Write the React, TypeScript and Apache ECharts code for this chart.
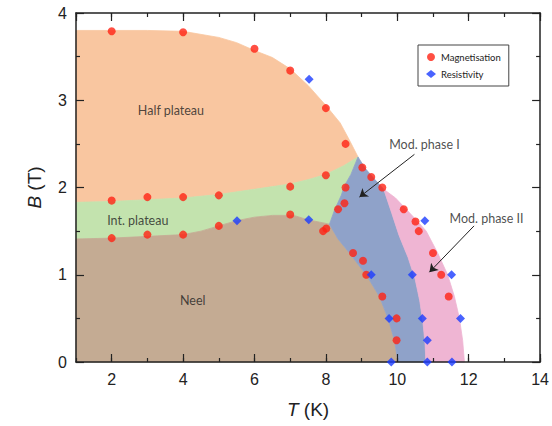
import React, { useEffect, useRef } from "react";
import * as echarts from "echarts";

// Measured points
const magnetisation: number[][] = [
  [2, 3.79], [4, 3.78], [6, 3.59], [7, 3.34], [8, 2.91], [8.55, 2.5], [9.02, 2.23], [9.27, 2.12], [9.58, 2.0],
  [7, 2.01], [8, 2.14], [8.55, 2.0], [8.52, 1.82], [8.34, 1.75],
  [2, 1.85], [3, 1.89], [4, 1.89], [5, 1.91],
  [2, 1.42], [3, 1.46], [4, 1.46], [5, 1.56],
  [7, 1.69], [7.92, 1.5], [8.01, 1.53],
  [8.76, 1.25], [9.04, 1.16], [9.13, 1.0], [9.58, 0.75], [9.98, 0.5], [9.98, 0.25],
  [10.18, 1.75], [10.51, 1.61], [10.6, 1.5], [11.0, 1.25], [11.23, 1.0], [11.44, 0.75],
];
const resistivity: number[][] = [
  [7.53, 3.24], [5.51, 1.62], [7.52, 1.63], [9.27, 1.0], [9.77, 0.5], [9.83, 0],
  [10.77, 1.62], [10.42, 1.0], [11.52, 1.0], [10.7, 0.5], [11.77, 0.5], [10.84, 0.25], [10.84, 0], [11.53, 0],
];

// Phase boundaries
const orangeTop = [[1, 3.8], [2, 3.8], [3, 3.8], [4, 3.79], [5, 3.72], [5.5, 3.66], [6, 3.57], [6.5, 3.49], [7, 3.36], [7.5, 3.17], [8, 2.94], [8.4, 2.74], [8.65, 2.55], [8.9, 2.35]];
const orangeGreen = [[1, 1.83], [2, 1.84], [3, 1.86], [4, 1.88], [5, 1.92], [6, 1.98], [7, 2.04], [7.5, 2.09], [8, 2.15], [8.5, 2.25], [8.9, 2.35]];
const greenBlue = [[8.9, 2.35], [8.7, 2.15], [8.52, 2.02], [8.43, 1.91], [8.24, 1.74], [8.1, 1.58]];
const greenNeel = [[1, 1.41], [2, 1.42], [3, 1.44], [4, 1.46], [4.5, 1.5], [5, 1.56], [5.5, 1.62], [6, 1.66], [6.5, 1.68], [7.1, 1.68], [7.5, 1.63], [8.1, 1.58]];
const neelBlue = [[8.1, 1.58], [8.34, 1.41], [8.66, 1.25], [8.9, 1.12], [9.13, 1.0], [9.5, 0.75], [9.74, 0.5], [9.92, 0.25], [10.02, 0]];
const blueTop = [[8.9, 2.35], [9.1, 2.22], [9.35, 2.1], [9.62, 1.98]];
const bluePink = [[9.62, 1.98], [9.85, 1.7], [10.05, 1.45], [10.3, 1.2], [10.5, 0.95], [10.63, 0.7], [10.72, 0.45], [10.78, 0.2], [10.8, 0]];
const pinkOuter = [[9.62, 1.98], [9.95, 1.88], [10.25, 1.75], [10.55, 1.62], [10.81, 1.5], [11.13, 1.25], [11.41, 1.0], [11.6, 0.75], [11.74, 0.5], [11.83, 0.25], [11.88, 0]];

const rev = (a: number[][]) => a.slice().reverse();
const regionNames = ["Half plateau", "Int. plateau", "Neel", "Mod. phase I", "Mod. phase II"];
const regionColors = ["#f9c6a0", "#c3e3ae", "#c4ab93", "#8fa2c9", "#efb5d3"];
const regionPolys: number[][][] = [
  [...orangeTop, ...rev(orangeGreen)],
  [...orangeGreen, ...greenBlue, ...rev(greenNeel)],
  [...greenNeel, ...neelBlue, [1, 0]],
  [...blueTop, ...bluePink, ...rev(neelBlue), ...rev(greenBlue)],
  [...pinkOuter, ...rev(bluePink)],
];

const regionLabels = [
  { name: "Half plateau", value: [3.66, 2.88] },
  { name: "Int. plateau", value: [2.73, 1.62] },
  { name: "Neel", value: [4.27, 0.71] },
  { name: "Mod. phase I", value: [10.76, 2.49] },
  { name: "Mod. phase II", value: [12.5, 1.64] },
];
const arrows = [
  { coords: [[10.48, 2.38], [8.94, 1.89]] },
  { coords: [[12.15, 1.56], [10.9, 1.03]] },
];

const FONT = "'Liberation Sans', Arial, sans-serif";
const LFONT = "Lato, 'Open Sans', sans-serif";
const INK = "#222";

export default function App() {
  const ref = useRef<HTMLDivElement>(null);
  useEffect(() => {
    if (!ref.current) return;
    const chart = echarts.init(ref.current, null, { renderer: "svg" });
    const lineStyle = { color: INK, width: 1.5 };
    const tickStyle = { color: INK, width: 1.2 };
    const xBase = { type: "value", min: 1, max: 14, z: 10, splitLine: { show: false } };
    chart.setOption({
      animation: false,
      backgroundColor: "#fff",
      grid: { left: 76, right: 10, top: 13, bottom: 64 },
      legend: {
        data: ["Magnetisation", "Resistivity"],
        orient: "vertical",
        left: 418,
        top: 45,
        itemWidth: 10,
        itemHeight: 8,
        itemGap: 7,
        padding: [7, 8, 7, 8],
        borderColor: "#444",
        borderWidth: 1,
        backgroundColor: "#fff",
        textStyle: { fontSize: 9.5, fontFamily: LFONT, color: INK },
      },
      xAxis: [
        {
          ...xBase,
          position: "bottom",
          minInterval: 2,
          maxInterval: 2,
          axisLine: { show: true, onZero: false, lineStyle },
          axisTick: { show: true, inside: true, length: 8, lineStyle: tickStyle },
          axisLabel: { fontSize: 16, fontFamily: FONT, color: INK, margin: 9, showMinLabel: false },
          name: "{i|T} (K)",
          nameLocation: "middle",
          nameGap: 38,
          nameTextStyle: {
            fontSize: 19, fontFamily: FONT, color: INK,
            rich: { i: { fontSize: 19, fontFamily: FONT, color: INK, fontStyle: "italic" } },
          },
        },
        {
          ...xBase,
          position: "bottom",
          interval: 1,
          axisLine: { show: false, onZero: false },
          axisTick: { show: true, inside: true, length: 4, lineStyle: tickStyle },
          axisLabel: { show: false },
        },
        {
          ...xBase,
          position: "top",
          minInterval: 2,
          maxInterval: 2,
          axisLine: { show: true, onZero: false, lineStyle },
          axisTick: { show: true, inside: true, length: 8, lineStyle: tickStyle },
          axisLabel: { show: false },
        },
        {
          ...xBase,
          position: "top",
          interval: 1,
          axisLine: { show: false, onZero: false },
          axisTick: { show: true, inside: true, length: 4, lineStyle: tickStyle },
          axisLabel: { show: false },
        },
      ],
      yAxis: [
        {
          type: "value",
          position: "left",
          min: 0,
          max: 4,
          interval: 1,
          z: 10,
          splitLine: { show: false },
          axisLine: { show: true, onZero: false, lineStyle },
          axisTick: { show: true, inside: true, length: 8, lineStyle: tickStyle },
          minorTick: { show: true, splitNumber: 2, length: 4, lineStyle: tickStyle },
          axisLabel: { fontSize: 16, fontFamily: FONT, color: INK, margin: 9 },
          name: "{i|B} (T)",
          nameLocation: "middle",
          nameGap: 32,
          nameTextStyle: {
            fontSize: 19, fontFamily: FONT, color: INK,
            rich: { i: { fontSize: 19, fontFamily: FONT, color: INK, fontStyle: "italic" } },
          },
        },
        {
          type: "value",
          position: "right",
          min: 0,
          max: 4,
          interval: 1,
          z: 10,
          splitLine: { show: false },
          axisLine: { show: true, onZero: false, lineStyle },
          axisTick: { show: true, inside: true, length: 8, lineStyle: tickStyle },
          minorTick: { show: true, splitNumber: 2, length: 4, lineStyle: tickStyle },
          axisLabel: { show: false },
        },
      ],
      series: [
        {
          type: "custom",
          name: "regions",
          silent: true,
          z: 1,
          data: regionNames.map((_, i) => [i + 2, 1]),
          renderItem: (params: any, api: any) => {
            const poly = regionPolys[params.dataIndex];
            const color = regionColors[params.dataIndex];
            return {
              type: "polygon",
              shape: { points: poly.map((p) => api.coord(p)) },
              style: { fill: color, stroke: color, lineWidth: 0.8 },
            };
          },
        },
        {
          type: "scatter",
          name: "Magnetisation",
          symbol: "circle",
          symbolSize: 8,
          clip: false,
          z: 13,
          itemStyle: { color: "#ff2314" },
          data: magnetisation,
        },
        {
          type: "scatter",
          name: "Resistivity",
          symbol: "diamond",
          symbolSize: 9,
          clip: false,
          z: 14,
          itemStyle: { color: "#1c3cff" },
          data: resistivity,
        },
        {
          type: "scatter",
          name: "labels",
          symbolSize: 0,
          silent: true,
          z: 15,
          label: {
            show: true,
            position: "inside",
            formatter: "{b}",
            fontSize: 12.5,
            fontFamily: LFONT,
            color: INK,
          },
          data: regionLabels,
        },
        {
          type: "lines",
          name: "arrows",
          coordinateSystem: "cartesian2d",
          silent: true,
          z: 16,
          symbol: ["none", "arrow"],
          symbolSize: 8,
          lineStyle: { color: INK, width: 1, opacity: 1 },
          data: arrows,
        },
      ],
    });
    return () => chart.dispose();
  }, []);
  return (
    <div
      ref={ref}
      style={{ position: "fixed", left: 0, top: 0, width: 552, height: 426 }}
    />
  );
}
